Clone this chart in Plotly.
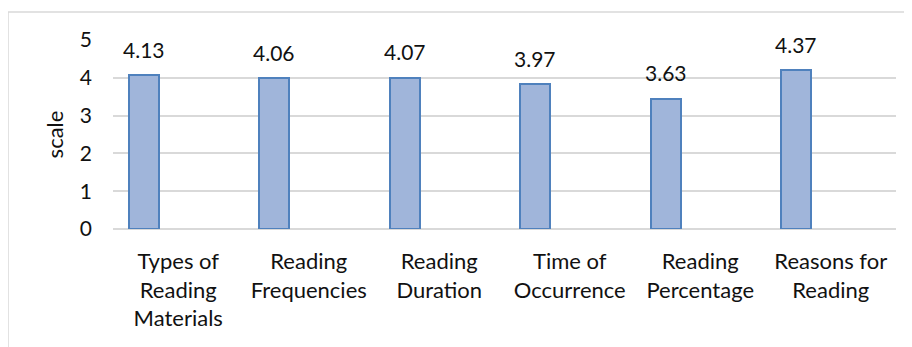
import plotly.graph_objects as go

categories = ["Types of<br>Reading<br>Materials", "Reading<br>Frequencies", "Reading<br>Duration",
              "Time of<br>Occurrence", "Reading<br>Percentage", "Reasons for<br>Reading"]
bar_values = [4.07, 3.99, 4.00, 3.83, 3.44, 4.20]
label_texts = ["4.13", "4.06", "4.07", "3.97", "3.63", "4.37"]
y_ticks = [0, 1, 2, 3, 4, 5]

FONT = "Lato"
W, H = 912, 347
SHIFT = 8  # page body margin offset
ML, MR, MT, MB = 113 - SHIFT, 16 + SHIFT, 40 - SHIFT, 118 + SHIFT
pw, ph = W - ML - MR, H - MT - MB
slot = pw / len(categories)
bar_offset, bar_width = -0.38, 0.23
center_shift = (bar_offset + bar_width / 2) * slot

fig = go.Figure()
fig.add_trace(go.Bar(
    x=categories, y=bar_values,
    offset=bar_offset, width=bar_width,
    marker=dict(color="#A0B5DA", line=dict(color="#4F81BD", width=2)),
    hoverinfo="skip", showlegend=False,
))

for c, v, t in zip(categories, bar_values, label_texts):
    fig.add_annotation(x=c, y=v, text=t, showarrow=False, xshift=center_shift,
                       yshift=26, yanchor="middle",
                       font=dict(family=FONT, size=21, color="#111111"))

# outer chart-area border (top and left visible)
px = lambda x: (x - SHIFT - ML) / pw
py = lambda y: (H - MB - (y - SHIFT)) / ph
fig.add_shape(type="line", xref="paper", yref="paper", x0=px(8), x1=px(W + 20), y0=py(12), y1=py(12),
              line=dict(color="#D9D9D9", width=1.5))
fig.add_shape(type="line", xref="paper", yref="paper", x0=px(8), x1=px(8), y0=py(12), y1=py(H + 20),
              line=dict(color="#D9D9D9", width=1.5))

fig.update_layout(
    width=W, height=H, margin=dict(l=ML, r=MR, t=MT, b=MB),
    paper_bgcolor="white", plot_bgcolor="white",
    font=dict(family=FONT, color="#111111"),
    bargap=0,
)
fig.update_xaxes(tickfont=dict(size=22, family=FONT), showgrid=False, showline=False,
                 ticks="", ticklabelstandoff=17, fixedrange=True)
fig.update_yaxes(range=[0, 5], tickvals=y_ticks, tickfont=dict(size=21, family=FONT),
                 showgrid=True, gridcolor="#D9D9D9", gridwidth=1.5,
                 zeroline=True, zerolinecolor="#D9D9D9", zerolinewidth=1.5,
                 showline=False, ticks="", ticklabelstandoff=20,
                 title=dict(text="scale", font=dict(size=22, family=FONT), standoff=10),
                 fixedrange=True)

fig.write_html("out.html")
